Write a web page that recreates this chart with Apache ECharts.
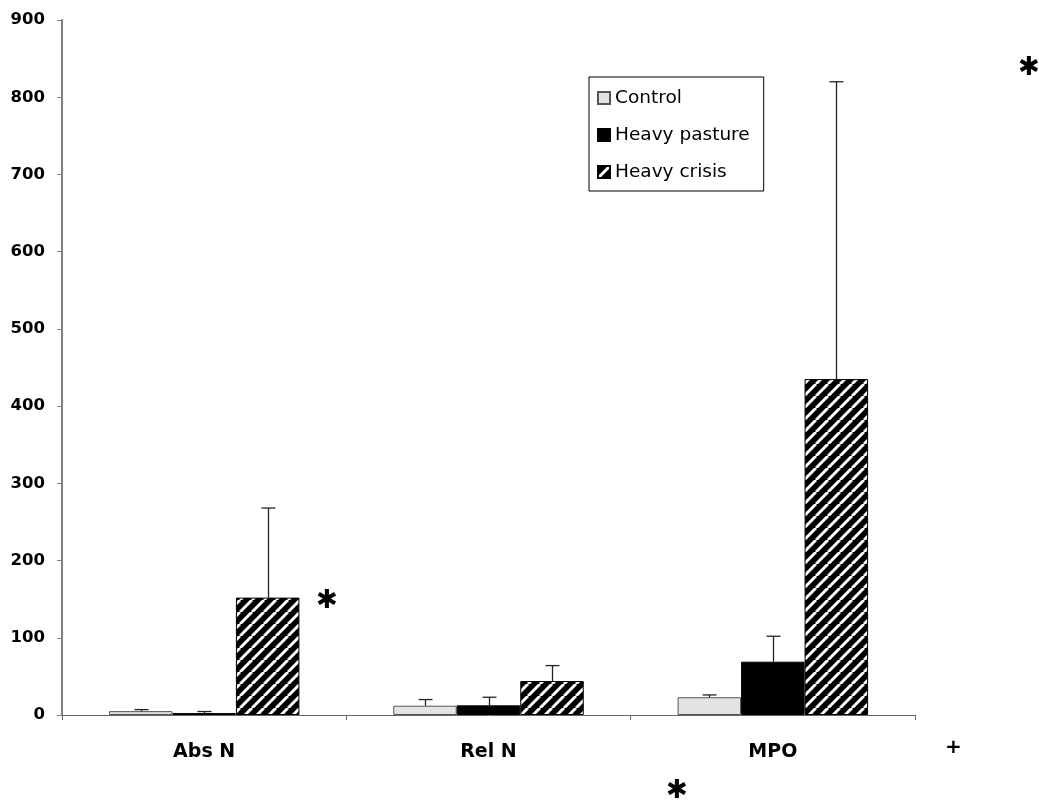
<!DOCTYPE html>
<html>
<head>
<meta charset="utf-8">
<script src="https://cdn.jsdelivr.net/npm/echarts@6/dist/echarts.min.js"></script>
<style>
  html, body { margin: 0; padding: 0; background: #fff; }
  #chart { width: 1039px; height: 805px; }
</style>
</head>
<body>
<div id="chart"></div>
<script>
// data
const categories = ['Abs N', 'Rel N', 'MPO'];
const seriesNames = ['Control', 'Heavy pasture', 'Heavy crisis'];
const control = [5, 12, 23];
const controlErr = [2, 8, 3];
const pasture = [2.5, 12.5, 69];
const pastureErr = [2, 10.5, 33];
const crisis = [152, 44, 435];
const crisisErr = [116, 20, 385];
const yMin = 0, yMax = 900, yStep = 100;

const catGap = 0.33;

// diagonal hatch tile
function hatch(size, lw) {
  const c = document.createElement('canvas');
  c.width = size; c.height = size;
  const ctx = c.getContext('2d');
  ctx.fillStyle = '#000';
  ctx.fillRect(0, 0, size, size);
  ctx.strokeStyle = '#fff';
  ctx.lineWidth = lw;
  for (let k = -1; k <= 1; k++) {
    ctx.beginPath();
    ctx.moveTo(k * size, size);
    ctx.lineTo(k * size + size, 0);
    ctx.stroke();
  }
  return c;
}

const values = [control, pasture, crisis];
const errs = [controlErr, pastureErr, crisisErr];
const errData = [];
values.forEach((arr, g) => {
  arr.forEach((v, i) => errData.push([i, v, errs[g][i], g]));
});

const chart = echarts.init(document.getElementById('chart'));
const option = {
  animation: false,
  grid: { left: 62, right: 124, top: 20, bottom: 90 },
  legend: {
    orient: 'vertical',
    left: 589,
    top: 77,
    padding: [11, 14, 9, 8],
    itemGap: 17,
    itemWidth: 12,
    itemHeight: 12,
    icon: 'rect',
    borderColor: '#000',
    borderWidth: 1,
    borderRadius: 0,
    data: seriesNames,
    textStyle: { fontFamily: 'DejaVu Sans', fontSize: 18.5, color: '#000', lineHeight: 20 }
  },
  xAxis: {
    type: 'category',
    data: categories,
    axisLine: { lineStyle: { color: '#666', width: 1 } },
    axisTick: { show: true, length: 5, lineStyle: { color: '#666' } },
    axisLabel: {
      margin: 28,
      color: '#000',
      fontFamily: 'DejaVu Sans',
      fontWeight: 'bold',
      fontSize: 19
    },
    splitLine: { show: false }
  },
  yAxis: {
    type: 'value',
    min: yMin,
    max: yMax,
    interval: yStep,
    axisLine: { show: true, lineStyle: { color: '#808080', width: 2 } },
    axisTick: { show: true, length: 5, lineStyle: { color: '#808080' } },
    axisLabel: {
      margin: 17,
      color: '#000',
      fontFamily: 'DejaVu Sans',
      fontWeight: 'bold',
      fontSize: 16.5
    },
    splitLine: { show: false }
  },
  series: [
    {
      name: seriesNames[0],
      type: 'bar',
      barGap: '0%',
      barCategoryGap: (catGap * 100) + '%',
      data: control,
      itemStyle: { color: '#e3e3e3', borderColor: '#555', borderWidth: 1 }
    },
    {
      name: seriesNames[1],
      type: 'bar',
      data: pasture,
      itemStyle: { color: '#000', borderColor: '#000', borderWidth: 1 }
    },
    {
      name: seriesNames[2],
      type: 'bar',
      data: crisis,
      itemStyle: {
        color: { image: hatch(12, 3), repeat: 'repeat' },
        borderColor: '#000',
        borderWidth: 1
      }
    },
    {
      type: 'custom',
      z: 5,
      encode: { x: 0, y: 1 },
      data: errData,
      renderItem: function (params, api) {
        const ci = api.value(0), v = api.value(1), e = api.value(2), g = api.value(3);
        const bandW = api.size([1, 0])[0];
        const barW = bandW * (1 - catGap) / 3;
        const base = api.coord([ci, v]);
        const top = api.coord([ci, v + e]);
        const x = Math.round(base[0] + (g - 1) * barW) + 0.5;
        const st = { stroke: '#222', lineWidth: 1.3 };
        return {
          type: 'group',
          children: [
            { type: 'line', shape: { x1: x, y1: base[1], x2: x, y2: top[1] }, style: st },
            { type: 'line', shape: { x1: x - 7, y1: top[1], x2: x + 7, y2: top[1] }, style: st }
          ]
        };
      }
    }
  ],
  graphic: [
    { type: 'text', left: 316, top: 588, style: { text: '\u2731', font: 'bold 26px "DejaVu Sans"', fill: '#000' } },
    { type: 'text', left: 1018, top: 55, style: { text: '\u2731', font: 'bold 26px "DejaVu Sans"', fill: '#000' } },
    { type: 'text', left: 666, top: 778, style: { text: '\u2731', font: 'bold 26px "DejaVu Sans"', fill: '#000' } },
    { type: 'text', left: 945, top: 738, style: { text: '+', font: 'bold 20px "DejaVu Sans"', fill: '#000' } }
  ]
};
chart.setOption(option);
</script>
</body>
</html>
